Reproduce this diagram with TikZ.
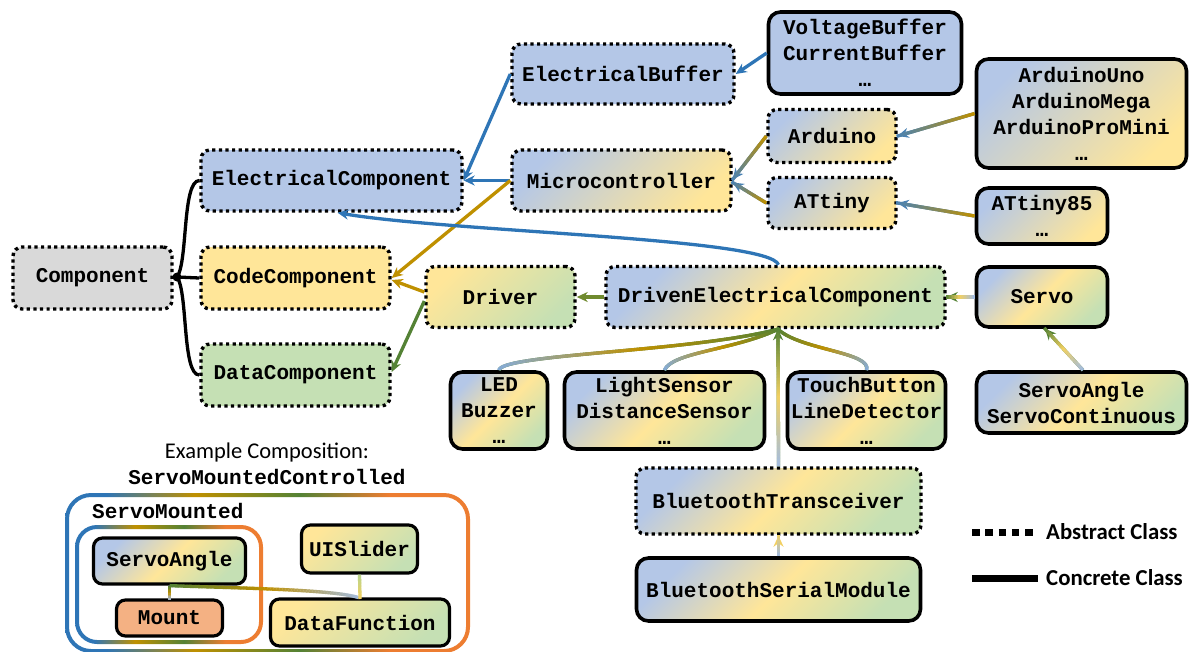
\documentclass[tikz,border=0pt]{standalone}
\usepackage{fontspec}
\setmainfont{Carlito}
\newfontfamily\codefont{Liberation Mono}
\usetikzlibrary{arrows.meta,decorations.markings,calc}

% box fills
\definecolor{fblue}{HTML}{B4C7E7}
\definecolor{fyel}{HTML}{FFE699}
\definecolor{fgrn}{HTML}{C5E0B4}
\definecolor{fgry}{HTML}{D9D9D9}
\definecolor{forg}{HTML}{F4B183}
% connector colours
\definecolor{cblue}{HTML}{2E75B6}
\definecolor{cgold}{HTML}{BF9000}
\definecolor{cgrn}{HTML}{548235}
\definecolor{colive}{HTML}{6F8A2E}
\definecolor{corg}{HTML}{ED7D31}
\definecolor{cpale}{HTML}{A3BCE0}
\definecolor{cpale2}{HTML}{86ACD8}
\definecolor{cyel}{HTML}{F2D062}
\definecolor{csteel}{HTML}{4A82B4}
\definecolor{cygrn}{HTML}{B9D58C}
\colorlet{cgsmid}{cgold!50!csteel}
\colorlet{cpymid}{cpale!50!cyel}
\colorlet{cygmid}{cygrn!50!cyel}

% colour fade for the composition frames
\pgfdeclarehorizontalshading{rimfade}{100bp}{color(0bp)=(cblue); color(25bp)=(cblue);
  color(30bp)=(cblue); color(41bp)=(cgold); color(54bp)=(cgrn); color(65bp)=(corg);
  color(75bp)=(corg); color(100bp)=(corg)}

% one short piece of a colour-graded stroke (three stops along the path)
\newcommand\gradmark[3]{%
  \pgfmathsetmacro\gfrac{min(1,\pgfkeysvalueof{/pgf/decoration/mark info/distance from start}/\pgfdecoratedpathlength)}%
  \pgfmathtruncatemacro\gpc{200*\gfrac}%
  \ifnum\gpc<100
    \colorlet{gcur}{#2!\gpc!#1}%
  \else
    \pgfmathtruncatemacro\gpc{\gpc-100}%
    \colorlet{gcur}{#3!\gpc!#2}%
  \fi
  \draw[-, draw=gcur, line width=3.3pt, line cap=butt, solid] (0pt,0pt) -- (1.9pt,0pt);%
}

\tikzset{
  every node/.style={font=\codefont\bfseries\fontsize{21}{26}\selectfont, align=center, inner sep=0pt},
  absbox/.style={draw=black, line width=3.4pt, dash pattern=on 3.2pt off 3.4pt, rounded corners=9pt},
  conbox/.style={draw=black, line width=3.6pt, rounded corners=12pt},
  smallbox/.style={draw=black, line width=3.2pt, rounded corners=9pt},
  gBY/.style={top color=fblue, bottom color=fyel, shading angle=45},
  gYG/.style={top color=fyel, bottom color=fgrn, shading angle=45},
  gBYG/.style={top color=fblue, bottom color=fgrn, middle color=fyel, shading angle=45},
  conn/.style={line width=3.3pt},
  arrowed/.style={-{Stealth[length=11pt,width=10pt]}},
  grad/.style n args={3}{postaction={decorate,decoration={markings,
      mark=between positions 0 and 1 step 1.5pt with {\gradmark{#1}{#2}{#3}}}}},
}

\begin{document}
\begin{tikzpicture}[x=1pt,y=-1pt]
\useasboundingbox (0,0) rectangle (1190,651);

% ---------- class hierarchy ----------
\node[absbox, fill=fgry, minimum width=159, minimum height=62] (comp) at (92.5,278) {Component};
\node[absbox, fill=fblue, minimum width=261, minimum height=61] (elec) at (331.5,180.5) {ElectricalComponent};
\node[absbox, fill=fyel, minimum width=189, minimum height=62] (code) at (295.5,278) {CodeComponent};
\node[absbox, fill=fgrn, minimum width=189, minimum height=62] (data) at (295.5,375) {DataComponent};
\node[absbox, fill=fblue, minimum width=222, minimum height=60] (ebuf) at (623,74) {ElectricalBuffer};
\node[absbox, gBY, minimum width=219, minimum height=61] (micro) at (621.5,180.5) {Microcontroller};
\node[conbox, fill=fblue, minimum width=193, minimum height=82] (vbuf) at (865,53) {VoltageBuffer\\CurrentBuffer\\…};
\node[absbox, gBY, minimum width=128, minimum height=53] (ard) at (832,136) {Arduino};
\node[absbox, gBY, minimum width=128, minimum height=51] (att) at (832,203) {ATtiny};
\node[conbox, gBY, minimum width=210, minimum height=109] (auno) at (1081.5,113.5) {ArduinoUno\\ArduinoMega\\ArduinoProMini\\…};
\node[conbox, gBY, minimum width=131, minimum height=56] (att85) at (1042,216) {ATtiny85\\…};
\node[absbox, gYG, minimum width=149, minimum height=61] (drv) at (500.5,297) {Driver};
\node[absbox, gBYG, minimum width=339, minimum height=61] (dec) at (775.5,297) {DrivenElectricalComponent};
\node[conbox, gBYG, minimum width=131, minimum height=60] (servo) at (1042,297) {Servo};
\node[conbox, gBYG, minimum width=210, minimum height=61] (sang) at (1081.5,402.5) {ServoAngle\\ServoContinuous};
\node[conbox, gBYG, minimum width=97, minimum height=77] (led) at (499,410.5) {LED\\Buzzer\\…};
\node[conbox, gBYG, minimum width=200, minimum height=77] (ls) at (664.5,410.5) {LightSensor\\DistanceSensor\\…};
\node[conbox, gBYG, minimum width=158, minimum height=77] (tb) at (866.5,410.5) {TouchButton\\LineDetector\\…};
\node[absbox, gBYG, minimum width=285, minimum height=66] (btt) at (778.5,501) {BluetoothTransceiver};
\node[conbox, gBYG, minimum width=284, minimum height=63] (bsm) at (778.5,589.5) {BluetoothSerialModule};

% root fan-out
\coordinate (hub) at (177,277);
\draw[conn, black] (hub) .. controls (188,262) and (182,181) .. (elec.west);
\draw[conn, black] (hub) -- (code.west);
\draw[conn, black] (hub) .. controls (188,292) and (182,375) .. (data.west);
\fill[black] (hub) circle (4.5);

% inheritance arrows
\draw[conn, arrowed, cblue] (ebuf.west) -- (elec.east);
\draw[conn, arrowed, cblue] (micro.west) -- (elec.east);
\draw[conn, arrowed, cgold] (micro.west) -- (code.east);
\draw[conn, arrowed, cblue] (vbuf.west) -- (ebuf.east);
\draw[conn, arrowed, draw=csteel, grad={cgold}{cgsmid}{csteel}] (auno.west) -- (ard.east);
\draw[conn, arrowed, draw=csteel, grad={cgold}{cgsmid}{csteel}] (att85.west) -- (att.east);
\draw[conn, arrowed, draw=csteel, grad={cgold}{cgsmid}{csteel}] (ard.west) -- ($(micro.east)+(0,-1)$);
\draw[conn, arrowed, draw=csteel, grad={cgold}{cgsmid}{csteel}] (att.west) -- ($(micro.east)+(0,2)$);
\draw[conn, arrowed, cgold] ($(drv.west)+(0,-5)$) -- ($(code.east)+(0,2)$);
\draw[conn, arrowed, cgrn] ($(drv.west)+(0,4)$) -- ($(data.east)+(0,-3)$);
\draw[conn, arrowed, colive] (dec.west) -- (drv.east);
\draw[conn, arrowed, cblue] ($(dec.north)+(3,0)$) .. controls (770,238) and (450,232) .. ($(elec.south)+(6,0)$);
\draw[conn, arrowed, draw=cgrn, grad={cpale}{cyel}{cgrn}] (servo.west) -- (dec.east);
\draw[conn, arrowed, draw=cgrn, grad={cpale}{cyel}{cgrn}] ($(sang.north)+(1.5,0)$) -- ($(servo.south)+(3,0)$);

\coordinate (decin) at ($(dec.south)+(2.5,0)$);
\draw[conn, draw=cgrn, grad={cpale2}{cgold}{cgrn}] (led.north) .. controls (502,354) and (690,352) .. (decin);
\draw[conn, draw=cgrn, grad={cpale2}{cgold}{cgrn}] (ls.north) .. controls (672,352) and (735,350) .. (decin);
\draw[conn, draw=cgrn, grad={cpale2}{cgold}{cgrn}] (tb.north) .. controls (872,352) and (800,350) .. (decin);
\draw[conn, arrowed, draw=cgrn, grad={cpale}{cyel}{cgrn}] (btt.north) -- (decin);
\draw[conn, arrowed, draw=cyel, grad={cpale}{cpymid}{cyel}] (bsm.north) -- (btt.south);

% ---------- legend ----------
\coordinate (la1) at (972,532);
\coordinate (la2) at (1038,532);
\coordinate (lc1) at (972,578);
\coordinate (lc2) at (1038,578);
\draw[line width=7pt, dash pattern=on 7.5pt off 5.8pt] (la1) -- (la2);
\draw[line width=7pt] (lc1) -- (lc2);
\node[anchor=west, font=\bfseries\fontsize{22.8}{26}\selectfont] (labs) at (1046,532) {Abstract Class};
\node[anchor=west, font=\bfseries\fontsize{22.8}{26}\selectfont] (lcon) at (1046,578) {Concrete Class};

% ---------- example composition ----------
\node[font=\fontsize{22.5}{26}\selectfont] (exlab) at (267,452) {Example Composition:};
\node (smc) at (267,477) {ServoMountedControlled};

\shade[shading=rimfade, even odd rule, rounded corners=26pt] (65,493) rectangle (470,653)
  [rounded corners=22pt] (69,497) rectangle (466,649);
\shade[shading=rimfade, even odd rule, rounded corners=22pt] (75,525) rectangle (263,644)
  [rounded corners=18pt] (79,529) rectangle (259,640);
\node[anchor=west] (smt) at (92,511) {ServoMounted};

\node[smallbox, gBYG, minimum width=152, minimum height=46] (csa) at (169.5,561) {ServoAngle};
\node[smallbox, fill=forg, minimum width=106, minimum height=36] (mnt) at (169.5,618) {Mount};
\node[smallbox, gYG, minimum width=116, minimum height=48] (usl) at (359.5,549) {UISlider};
\node[smallbox, gYG, minimum width=179, minimum height=47] (dfn) at (360,622.5) {DataFunction};

\path[grad={cgrn}{cgold}{cpale}] (csa.south) -- (mnt.north);
\path[grad={cgrn}{cgold}{cpale}] (csa.south) .. controls (230,588) and (330,589) .. ($(dfn.north)+(-2,0)$);
\path[grad={cygrn}{cygmid}{cyel}] (usl.south) -- (dfn.north);
\end{tikzpicture}
\end{document}
